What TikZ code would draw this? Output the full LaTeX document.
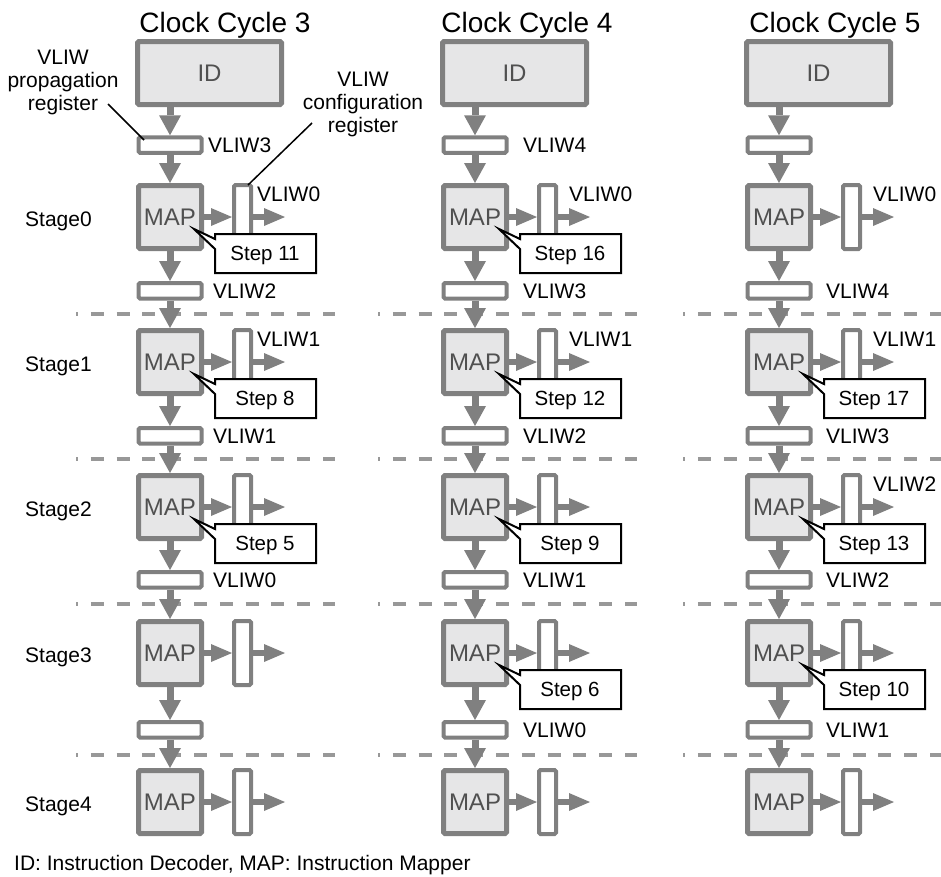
\documentclass[tikz,border=0pt]{standalone}
\usepackage{fontspec}
\setmainfont{Liberation Sans}
\usetikzlibrary{arrows.meta}
\definecolor{edgegray}{RGB}{128,128,128}
\definecolor{boxfill}{RGB}{230,230,231}
\definecolor{dashgray}{RGB}{152,152,152}
\definecolor{mtext}{RGB}{80,80,80}
\newcommand\stepcallout[4]{%
  \draw[callout] ({#1+79},{#2+51}) -- ({#1+180},{#2+51}) -- ({#1+180},{#2+90})
    -- ({#1+79},{#2+90}) -- ({#1+79},{#2+66}) -- ({#1+58},{#2+46})
    -- ({#1+79},{#2+56}) -- cycle;
  \node[steptext] (#3) at ({#1+129},{#2+70}) {#4};}
\begin{document}
\begin{tikzpicture}[x=1pt,y=-1pt,
  idbox/.style={draw=edgegray, fill=boxfill, line width=5pt, rounded corners=1.5pt,
    minimum width=144pt, minimum height=63pt, inner sep=0pt, text=mtext,
    font=\fontsize{24}{28}\selectfont},
  mapbox/.style={draw=edgegray, fill=boxfill, line width=5pt, rounded corners=1.5pt,
    minimum width=63pt, minimum height=63pt, inner sep=0pt, text=mtext,
    font=\fontsize{24}{28}\selectfont},
  preg/.style={draw=edgegray, fill=white, line width=4pt, rounded corners=1.5pt,
    minimum width=63pt, minimum height=15.5pt, inner sep=0pt},
  creg/.style={draw=edgegray, fill=white, line width=4pt, rounded corners=1.5pt,
    minimum width=17pt, minimum height=64pt, inner sep=0pt},
  varrow/.style={draw=edgegray, line width=7pt,
    -{Triangle[length=20pt,width=22pt,line width=0pt]}},
  harrow/.style={draw=edgegray, line width=6.5pt,
    -{Triangle[length=21pt,width=18pt,line width=0pt]}},
  dashline/.style={draw=dashgray, line width=4pt, dash pattern=on 13pt off 12.8pt, dash phase=11pt},
  lbl/.style={font=\fontsize{21}{25}\selectfont, inner sep=0pt, text height=15pt, text depth=0pt, anchor=west},
  steptext/.style={font=\fontsize{20.5}{24}\selectfont, inner sep=0pt, text height=14.7pt, text depth=0pt},
  callout/.style={draw=black, fill=white, line width=2pt, line join=miter},
  title/.style={font=\fontsize{28}{32}\selectfont, inner sep=0pt, text height=20pt, text depth=0pt},
  note/.style={font=\fontsize{21}{23}\selectfont, inner sep=0pt, align=center, anchor=north},
  leader/.style={draw=black, line width=1.5pt}
]
\useasboundingbox (0,0) rectangle (941,876);
% stage separators
\foreach \xs in {76,378,683} {
  \foreach \yd in {314,459,604,755} {
    \draw[dashline] (\xs,\yd) -- ++(259,0);
  }
}
% columns
\foreach \cc/\X/\tx in {1/136/225, 2/441/527, 3/745/835} {
  \node[title] (title-\cc) at (\tx,22) {Clock Cycle \the\numexpr\cc+2\relax};
  \node[idbox] (id-\cc) at ({\X+73.5},73) {ID};
  \node[preg] (t-\cc) at ({\X+34},145) {};
  \draw[varrow] (id-\cc.south -| t-\cc.north) -- (t-\cc.north);
  \foreach \s/\ty in {0/183,1/328,2/473,3/619,4/768} {
    \node[mapbox] (m-\cc-\s) at ({\X+34},{\ty+34}) {MAP};
    \node[creg] (r-\cc-\s) at ({\X+106.5},{\ty+34}) {};
    \coordinate (o-\cc-\s) at ({\X+149},{\ty+34});
    \draw[harrow] (m-\cc-\s) -- (r-\cc-\s);
    \draw[harrow] (r-\cc-\s) -- (o-\cc-\s);
  }
  \foreach \s/\rr in {0/281,1/426,2/570,3/720} {
    \node[preg] (p-\cc-\s) at ({\X+34},{\rr+9.75}) {};
  }
  \draw[varrow] (t-\cc) -- (m-\cc-0);
  \foreach \s in {0,1,2,3} {
    \pgfmathtruncatemacro\nx{\s+1}
    \draw[varrow] (m-\cc-\s) -- (p-\cc-\s);
    \draw[varrow] (p-\cc-\s) -- (m-\cc-\nx);
  }
}
% stage labels
\foreach \s/\ty in {0/183,1/328,2/473,3/619,4/768} {
  \node[lbl] (stage-\s) at (25,{\ty+36}) {Stage\s};
}
% callouts (Step n)
\stepcallout{136}{183}{st-1-0}{Step 11}
\stepcallout{136}{328}{st-1-1}{Step 8}
\stepcallout{136}{473}{st-1-2}{Step 5}
\stepcallout{441}{183}{st-2-0}{Step 16}
\stepcallout{441}{328}{st-2-1}{Step 12}
\stepcallout{441}{473}{st-2-2}{Step 9}
\stepcallout{441}{619}{st-2-3}{Step 6}
\stepcallout{745}{328}{st-3-1}{Step 17}
\stepcallout{745}{473}{st-3-2}{Step 13}
\stepcallout{745}{619}{st-3-3}{Step 10}
% register labels, column 1
\node[lbl] (lt-1) at (208,145) {VLIW3};
\node[lbl] (lr-1-0) at (257,194) {VLIW0};
\node[lbl] (lp-1-0) at (213,290.75) {VLIW2};
\node[lbl] (lr-1-1) at (257,339) {VLIW1};
\node[lbl] (lp-1-1) at (213,435.75) {VLIW1};
\node[lbl] (lp-1-2) at (213,579.75) {VLIW0};
% column 2
\node[lbl] (lt-2) at (523,145) {VLIW4};
\node[lbl] (lr-2-0) at (569,194) {VLIW0};
\node[lbl] (lp-2-0) at (523,290.75) {VLIW3};
\node[lbl] (lr-2-1) at (569,339) {VLIW1};
\node[lbl] (lp-2-1) at (523,435.75) {VLIW2};
\node[lbl] (lp-2-2) at (523,579.75) {VLIW1};
\node[lbl] (lp-2-3) at (523,729.75) {VLIW0};
% column 3
\node[lbl] (lr-3-0) at (873,194) {VLIW0};
\node[lbl] (lp-3-0) at (826,290.75) {VLIW4};
\node[lbl] (lr-3-1) at (873,339) {VLIW1};
\node[lbl] (lp-3-1) at (826,435.75) {VLIW3};
\node[lbl] (lr-3-2) at (873,484) {VLIW2};
\node[lbl] (lp-3-2) at (826,579.75) {VLIW2};
\node[lbl] (lp-3-3) at (826,729.75) {VLIW1};
% annotations
\node[note] (propnote) at (63,50) {VLIW\\propagation\\register};
\node[note] (confnote) at (363,72) {VLIW\\configuration\\register};
\coordinate (propfrom) at (108,104);
\coordinate (propto) at (144,140);
\coordinate (conffrom) at (312,123);
\coordinate (confto) at (248,185);
\draw[leader] (propfrom) -- (propto);
\draw[leader] (conffrom) -- (confto);
% footer
\node[lbl] (footer) at (14,863) {ID: Instruction Decoder, MAP: Instruction Mapper};
\end{tikzpicture}
\end{document}
